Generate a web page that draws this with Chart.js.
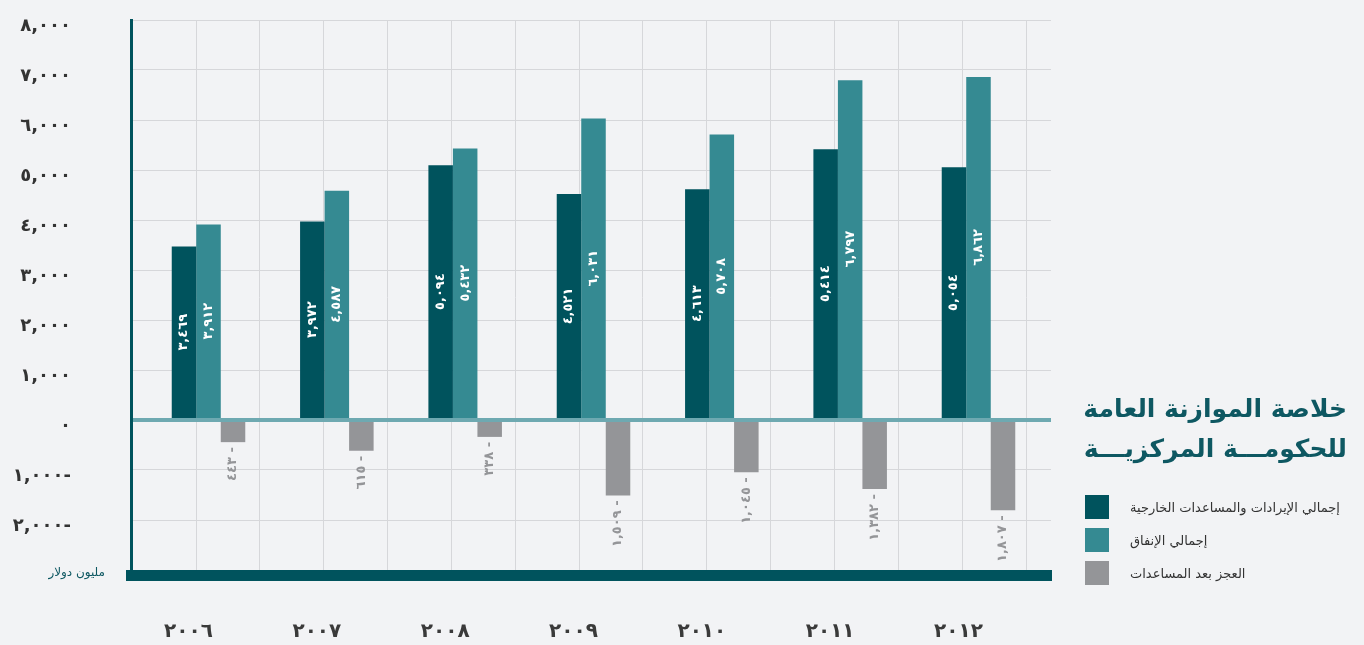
<!DOCTYPE html>
<html lang="ar">
<head>
<meta charset="utf-8">
<title>خلاصة الموازنة العامة للحكومة المركزية</title>
<script src="https://cdn.jsdelivr.net/npm/chart.js@4.4.1/dist/chart.umd.min.js"></script>
<style>
  html, body { margin: 0; padding: 0; background: #f2f3f5; }
  #wrap { position: relative; width: 1364px; height: 645px; overflow: hidden; font-family: "DejaVu Sans", sans-serif; }
  #canvasBox { position: absolute; left: 0; top: 0; width: 1364px; height: 645px; }
  #title { position: absolute; right: 17px; top: 389px; direction: rtl; text-align: right; font-weight: bold;
           font-size: 25px; line-height: 40px; color: #0e5862; white-space: nowrap; }
  #legend { position: absolute; left: 1085px; top: 495px; }
  .item { display: flex; align-items: center; height: 24px; margin-bottom: 9px; font-size: 13px; color: #333; }
  .box { width: 24px; height: 24px; margin-right: 21px; flex: none; }
  #unit { position: absolute; right: 1259px; top: 565px; font-size: 12px; color: #0e5862; direction: rtl; white-space: nowrap; }
</style>
</head>
<body>
<div id="wrap">
  <div id="canvasBox"><canvas id="chart"></canvas></div>
  <div id="title">خلاصة الموازنة العامة<br>للحكومـــة المركزيـــة</div>
  <div id="legend"></div>
  <div id="unit">مليون دولار</div>
</div>
<script>
// Data (million dollars)
const years = ['٢٠٠٦', '٢٠٠٧', '٢٠٠٨', '٢٠٠٩', '٢٠١٠', '٢٠١١', '٢٠١٢'];
const revenue = [3469, 3972, 5094, 4521, 4613, 5414, 5054];
const spending = [3912, 4587, 5432, 6031, 5708, 6797, 6862];
const deficit = [-443, -615, -338, -1509, -1045, -1382, -1807];
const seriesNames = ['إجمالي الإيرادات والمساعدات الخارجية', 'إجمالي الإنفاق', 'العجز بعد المساعدات'];
const yTicks = [-2000, -1000, 0, 1000, 2000, 3000, 4000, 5000, 6000, 7000, 8000];
const yMin = -3100, yMax = 8000;

const DARK = '#00535d';
const TEAL = '#358a92';
const GREY = '#949598';
const ZERO = '#6ea9b1';
const GRID = '#d6d7da';

const arabicDigits = '٠١٢٣٤٥٦٧٨٩';

function toArabic(n) {
  const s = Math.abs(n).toLocaleString('en-US').replace(/\d/g, d => arabicDigits[d]);
  return n < 0 ? s + '-' : s;
}

function toPoints(values) {
  return values.map((v, i) => ({ x: i, y: v }));
}

// Vertical value labels on the bars
const barLabels = {
  id: 'barLabels',
  afterDatasetsDraw(chart) {
    const ctx = chart.ctx;
    chart.data.datasets.forEach((ds, di) => {
      const meta = chart.getDatasetMeta(di);
      meta.data.forEach((bar, i) => {
        const v = ds.data[i].y;
        ctx.save();
        ctx.font = 'bold 13px "DejaVu Sans"';
        ctx.textBaseline = 'middle';
        if (v >= 0) {
          ctx.translate(bar.x, (bar.y + bar.base) / 2);
          ctx.rotate(-Math.PI / 2);
          ctx.textAlign = 'center';
          ctx.fillStyle = '#ffffff';
          ctx.fillText(toArabic(v), 0, 0);
        } else {
          ctx.translate(bar.x, bar.y + 5);
          ctx.rotate(-Math.PI / 2);
          ctx.textAlign = 'right';
          ctx.fillStyle = GREY;
          ctx.fillText(toArabic(-v) + ' -', 0, 0);
        }
        ctx.restore();
      });
    });
  }
};

Chart.defaults.font.family = '"DejaVu Sans", sans-serif';

const isZero = c => c.tick && c.tick.value === 0;

const chart = new Chart(document.getElementById('chart'), {
  type: 'bar',
  data: {
    datasets: [
      { label: seriesNames[0], data: toPoints(revenue), backgroundColor: DARK },
      { label: seriesNames[1], data: toPoints(spending), backgroundColor: TEAL },
      { label: seriesNames[2], data: toPoints(deficit), backgroundColor: GREY }
    ]
  },
  options: {
    responsive: true,
    maintainAspectRatio: false,
    animation: false,
    layout: { padding: { top: 20, right: 313, bottom: 0, left: 0 } },
    datasets: { bar: { categoryPercentage: 0.573, barPercentage: 1 } },
    plugins: {
      legend: { display: false },
      tooltip: { enabled: false }
    },
    scales: {
      x: {
        type: 'linear',
        position: 'bottom',
        min: -0.604,
        max: years.length - 1 + 0.565,
        offset: false,
        grid: { display: false, offset: false },
        border: { display: true, width: 11, color: DARK },
        ticks: {
          stepSize: 1,
          includeBounds: false,
          autoSkip: false,
          maxRotation: 0,
          labelOffset: -20,
          padding: 37,
          color: '#3a3a3a',
          font: { size: 20, weight: 'bold' },
          callback: v => years[v] ?? ''
        },
        afterFit: s => { s.height = 70; }
      },
      // grid-only axis for the vertical guide lines
      xg: {
        type: 'linear',
        position: 'bottom',
        min: -1.018,
        max: 13.39,
        offset: false,
        grid: { color: GRID, drawTicks: false, offset: false },
        border: { display: false },
        ticks: { display: false, stepSize: 1, includeBounds: false }
      },
      y: {
        min: yMin,
        max: yMax,
        afterBuildTicks: s => { s.ticks = yTicks.map(v => ({ value: v })); },
        ticks: {
          padding: 60,
          labelOffset: 6,
          color: '#333333',
          font: { size: 18, weight: 'bold' },
          callback: v => toArabic(v)
        },
        grid: {
          color: c => isZero(c) ? ZERO : GRID,
          lineWidth: c => isZero(c) ? 4 : 1,
          drawTicks: false
        },
        border: { display: true, width: 3, color: DARK },
        afterFit: s => { s.width = 131; s.paddingTop = 0; s.paddingBottom = 0; }
      }
    }
  },
  plugins: [barLabels]
});

// HTML legend
const legendBox = document.getElementById('legend');
chart.data.datasets.forEach(ds => {
  const row = document.createElement('div');
  row.className = 'item';
  const box = document.createElement('span');
  box.className = 'box';
  box.style.background = ds.backgroundColor;
  const text = document.createElement('span');
  text.dir = 'rtl';
  text.textContent = ds.label;
  row.appendChild(box);
  row.appendChild(text);
  legendBox.appendChild(row);
});
</script>
</body>
</html>
